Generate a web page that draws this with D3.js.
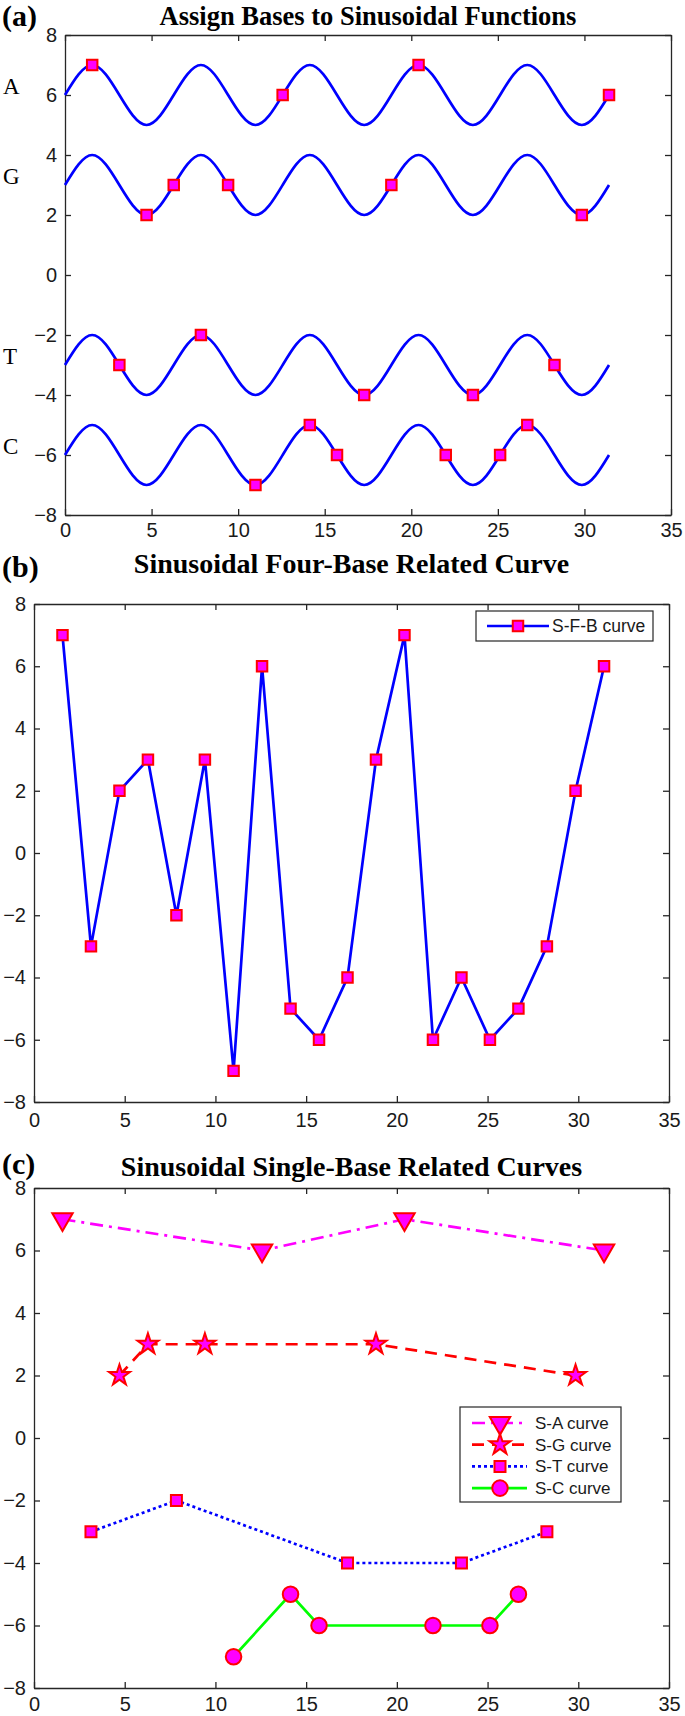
<!DOCTYPE html>
<html>
<head>
<meta charset="utf-8">
<script src="https://cdn.jsdelivr.net/npm/d3@7"></script>
<style>
  body { margin: 0; background: #fff; }
  svg { display: block; }
  .tick text { font-family: "Liberation Sans", Arial, sans-serif; font-size: 20px; fill: #1a1a1a; }
  .axis path, .axis line { stroke: #262626; stroke-width: 1.3; }
  .title, .tag, .base-label { font-family: "Liberation Serif", "Times New Roman", serif; fill: #000; }
  .legend text { font-family: "Liberation Sans", Arial, sans-serif; fill: #1a1a1a; }
</style>
</head>
<body>
<svg id="chart"></svg>
<script>
// positions of the 20 bases along x (k * pi/2)
const basePositions = [1.57, 3.14, 4.71, 6.28, 7.85, 9.42, 11.00, 12.57, 14.14, 15.71,
  17.28, 18.85, 20.42, 21.99, 23.56, 25.13, 26.70, 28.27, 29.85, 31.42];
const baseSequence = ["A", "T", "G", "G", "T", "G", "C", "A", "C", "C",
  "T", "G", "A", "C", "T", "C", "C", "T", "G", "A"];
const fourBaseValues = [7, -3, 2, 3, -2, 3, -7, 6, -5, -6, -4, 3, 7, -6, -4, -6, -5, -3, 2, 6];

// peaks / troughs / midline points of the four sinusoids in panel (a)
const waveX = [0, 1.57, 3.14, 4.71, 6.28, 7.85, 9.42, 11.00, 12.57, 14.14, 15.71,
  17.28, 18.85, 20.42, 21.99, 23.56, 25.13, 26.70, 28.27, 29.85, 31.42];
const waveA = [6, 7, 6, 5, 6, 7, 6, 5, 6, 7, 6, 5, 6, 7, 6, 5, 6, 7, 6, 5, 6];
const waveG = [3, 4, 3, 2, 3, 4, 3, 2, 3, 4, 3, 2, 3, 4, 3, 2, 3, 4, 3, 2, 3];
const waveT = [-3, -2, -3, -4, -3, -2, -3, -4, -3, -2, -3, -4, -3, -2, -3, -4, -3, -2, -3, -4, -3];
const waveC = [-6, -5, -6, -7, -6, -5, -6, -7, -6, -5, -6, -7, -6, -5, -6, -7, -6, -5, -6, -7, -6];
const baseLabels = ["A", "G", "T", "C"];
const baseLabelY = [6, 3, -3, -6];

const xTicks = [0, 5, 10, 15, 20, 25, 30, 35];
const yTicks = [-8, -6, -4, -2, 0, 2, 4, 6, 8];

const svg = d3.select("#chart").attr("width", 685).attr("height", 1716);

const BLUE = "#0000ff", RED = "#ff0000", MAGENTA = "#ff00ff", GREEN = "#00ff00";

function makePanel(cfg) {
  const x = d3.scaleLinear().domain([0, 35]).range([cfg.left, cfg.right]);
  const y = d3.scaleLinear().domain([-8, 8]).range([cfg.bottom, cfg.top]);

  const g = svg.append("g");

  // box with inward ticks on all four sides (labels only bottom / left)
  g.append("g").attr("class", "axis")
    .attr("transform", `translate(0,${cfg.bottom})`)
    .call(d3.axisBottom(x).tickValues(xTicks).tickSizeInner(-6).tickSizeOuter(0).tickPadding(cfg.xPad));
  g.append("g").attr("class", "axis")
    .attr("transform", `translate(0,${cfg.top})`)
    .call(d3.axisTop(x).tickValues(xTicks).tickSizeInner(-6).tickSizeOuter(0).tickFormat(""));
  g.append("g").attr("class", "axis")
    .attr("transform", `translate(${cfg.left},0)`)
    .call(d3.axisLeft(y).tickValues(yTicks).tickSizeInner(-6).tickSizeOuter(0).tickPadding(8));
  g.append("g").attr("class", "axis")
    .attr("transform", `translate(${cfg.right},0)`)
    .call(d3.axisRight(y).tickValues(yTicks).tickSizeInner(-6).tickSizeOuter(0).tickFormat(""));

  g.append("text").attr("class", "title")
    .attr("x", (cfg.left + cfg.right) / 2).attr("y", cfg.titleY)
    .attr("text-anchor", "middle").attr("font-weight", "bold")
    .attr("font-size", cfg.titleSize).text(cfg.title);

  g.append("text").attr("class", "tag")
    .attr("x", 2).attr("y", cfg.tagY)
    .attr("font-weight", "bold").attr("font-size", 30).text(cfg.tag);

  return { x, y, g };
}

function addMarkers(g, pts, type, size, rotate) {
  g.selectAll(null).data(pts).join("path")
    .attr("d", d3.symbol().type(type).size(size))
    .attr("transform", d => `translate(${d[0]},${d[1]})` + (rotate ? " rotate(180)" : ""))
    .attr("fill", MAGENTA).attr("stroke", RED).attr("stroke-width", 2);
}

// ---------- (a) ----------
const pa = makePanel({ left: 65, right: 671, top: 35, bottom: 515, xPad: 8,
  title: "Assign Bases to Sinusoidal Functions", titleY: 25, titleSize: 26.5, tag: "(a)", tagY: 26 });

const waveLine = d3.line().curve(d3.curveNatural)
  .x((d, i) => pa.x(waveX[i])).y(d => pa.y(d));
[waveA, waveG, waveT, waveC].forEach(w => {
  pa.g.append("path").attr("d", waveLine(w))
    .attr("fill", "none").attr("stroke", BLUE).attr("stroke-width", 2.7);
});

baseLabels.forEach((b, i) => {
  pa.g.append("text").attr("class", "base-label")
    .attr("x", 3).attr("y", pa.y(baseLabelY[i]) - 1)
    .attr("font-size", 23).text(b);
});

addMarkers(pa.g, basePositions.map((v, i) => [pa.x(v), pa.y(fourBaseValues[i])]), d3.symbolSquare, 110);

// ---------- (b) ----------
const pb = makePanel({ left: 34, right: 669, top: 604, bottom: 1102, xPad: 11,
  title: "Sinusoidal Four-Base Related Curve", titleY: 573, titleSize: 28, tag: "(b)", tagY: 577 });

const bLine = d3.line().x((d, i) => pb.x(basePositions[i])).y(d => pb.y(d));
pb.g.append("path").attr("d", bLine(fourBaseValues))
  .attr("fill", "none").attr("stroke", BLUE).attr("stroke-width", 2.7);
addMarkers(pb.g, basePositions.map((v, i) => [pb.x(v), pb.y(fourBaseValues[i])]), d3.symbolSquare, 110);

const legB = pb.g.append("g").attr("class", "legend");
legB.append("rect").attr("x", 476).attr("y", 611).attr("width", 177).attr("height", 30)
  .attr("fill", "#fff").attr("stroke", "#262626").attr("stroke-width", 1.2);
legB.append("line").attr("x1", 487).attr("x2", 549).attr("y1", 626).attr("y2", 626)
  .attr("stroke", BLUE).attr("stroke-width", 2.7);
addMarkers(legB, [[518, 626]], d3.symbolSquare, 110);
legB.append("text").attr("x", 552).attr("y", 632).attr("font-size", 17.5).text("S-F-B curve");

// ---------- (c) ----------
const pc = makePanel({ left: 34, right: 669, top: 1188, bottom: 1688, xPad: 9,
  title: "Sinusoidal Single-Base Related Curves", titleY: 1176, titleSize: 28, tag: "(c)", tagY: 1174 });

const singleSeries = [
  { base: "A", name: "S-A curve", color: MAGENTA, dash: "13,6,3,6", type: d3.symbolTriangle, size: 180, rotate: true },
  { base: "G", name: "S-G curve", color: RED, dash: "12,8", type: d3.symbolStar, size: 135, rotate: false },
  { base: "T", name: "S-T curve", color: BLUE, dash: "3,3", type: d3.symbolSquare, size: 121, rotate: false },
  { base: "C", name: "S-C curve", color: GREEN, dash: null, type: d3.symbolCircle, size: 190, rotate: false }
];

singleSeries.forEach(s => {
  const pts = basePositions
    .map((v, i) => [v, fourBaseValues[i], baseSequence[i]])
    .filter(d => d[2] === s.base)
    .map(d => [pc.x(d[0]), pc.y(d[1])]);
  pc.g.append("path").attr("d", d3.line()(pts))
    .attr("fill", "none").attr("stroke", s.color).attr("stroke-width", 2.7)
    .attr("stroke-dasharray", s.dash);
  s.pts = pts;
});
singleSeries.forEach(s => addMarkers(pc.g, s.pts, s.type, s.size, s.rotate));

const legC = pc.g.append("g").attr("class", "legend");
legC.append("rect").attr("x", 460).attr("y", 1407).attr("width", 161).attr("height", 95)
  .attr("fill", "#fff").attr("stroke", "#262626").attr("stroke-width", 1.2);
singleSeries.forEach((s, i) => {
  const ry = 1423 + i * 21.7;
  legC.append("line").attr("x1", 472).attr("x2", 527).attr("y1", ry).attr("y2", ry)
    .attr("stroke", s.color).attr("stroke-width", 2.7).attr("stroke-dasharray", s.dash);
  addMarkers(legC, [[500, ry]], s.type, s.size, s.rotate);
  legC.append("text").attr("x", 535).attr("y", ry + 6).attr("font-size", 17).text(s.name);
});
</script>
</body>
</html>
